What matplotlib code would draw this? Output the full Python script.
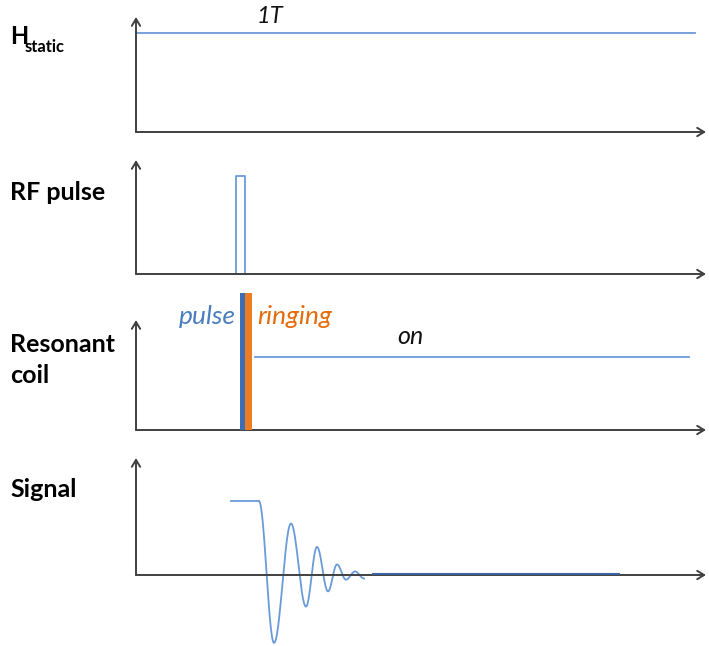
import numpy as np
import matplotlib
matplotlib.use("Agg")
import matplotlib.pyplot as plt

# ---- data (time in arbitrary units, amplitudes normalised to panel height) ----
panel_labels = ["H", "RF pulse", "Resonant", "coil", "Signal"]
h_static_level = 0.86
h_static_span = [0, 559]
h_static_text = "1T"

rf_pulse_span = [100, 109]
rf_pulse_height = 0.86

coil_pulse_span = [104, 109]
coil_ring_span = [109, 116]
coil_bar_height = 1.25
coil_on_span = [119, 553]
coil_on_level = 0.66

sig_flat_t = [95, 123]
sig_flat_v = 0.63
sig_ext_t = [123, 138, 155, 170, 181, 192, 201, 210, 219, 228]
sig_ext_v = [0.63, -0.58, 0.44, -0.27, 0.24, -0.14, 0.09, -0.04, 0.03, -0.03]
sig_tail_span = [237, 482]

W, H = 709, 646
fig = plt.figure(figsize=(W / 100, H / 100), dpi=100)

# panel pixel geometry (top, bottom)
panels = [(17, 132), (160, 274), (320, 430), (458, 575)]
x0, x1 = 136, 706
axes = []
for top, bot in panels:
    ax = fig.add_axes([x0 / W, 1 - bot / H, (x1 - x0) / W, (bot - top) / H])
    ax.set_xlim(0, x1 - x0)
    ax.set_ylim(0, 1)
    ax.axis("off")
    arrow = dict(arrowstyle="->,head_length=0.5,head_width=0.3", color="#404040", lw=1.4,
                 shrinkA=0, shrinkB=0)
    ax.annotate("", xy=(0, 1), xytext=(0, 0), xycoords="axes fraction", arrowprops=arrow)
    ax.annotate("", xy=(1, 0), xytext=(0, 0), xycoords="axes fraction", arrowprops=arrow)
    axes.append(ax)

line_blue = "#6a9bd8"
font = "Lato"

# Panel 1
ax = axes[0]
ax.plot(h_static_span, [h_static_level] * 2, color=line_blue, lw=1.3)
ax.text(134, 0.948, h_static_text, fontsize=17, style="italic", family=font,
        ha="center", va="baseline", color="#111111")

# Panel 2
ax = axes[1]
ax.plot([rf_pulse_span[0], rf_pulse_span[0], rf_pulse_span[1], rf_pulse_span[1]],
        [0, rf_pulse_height, rf_pulse_height, 0], color=line_blue, lw=1.3)

# Panel 3
ax = axes[2]
ax.bar(coil_pulse_span[0], coil_bar_height, width=coil_pulse_span[1] - coil_pulse_span[0],
       align="edge", color="#3d6eb5", clip_on=False, zorder=3)
ax.bar(coil_ring_span[0], coil_bar_height, width=coil_ring_span[1] - coil_ring_span[0],
       align="edge", color="#ec7d22", clip_on=False, zorder=3)
ax.plot(coil_on_span, [coil_on_level] * 2, color=line_blue, lw=1.3)
ax.text(100, 0.964, "pulse", fontsize=19, style="italic", family=font,
        ha="right", va="baseline", color="#4a7ebf", clip_on=False)
ax.text(121, 0.964, "ringing", fontsize=19, style="italic", family=font,
        ha="left", va="baseline", color="#e46c0a", clip_on=False)
ax.text(274, 0.78, "on", fontsize=18, style="italic", family=font,
        ha="center", va="baseline", color="#111111")

# Panel 4
ax = axes[3]
ax.plot(sig_flat_t, [sig_flat_v] * 2, color=line_blue, lw=1.3)
ts, vs = [], []
for i in range(len(sig_ext_t) - 1):
    s = np.linspace(0, 1, 30)
    ts.append(sig_ext_t[i] + (sig_ext_t[i + 1] - sig_ext_t[i]) * s)
    vs.append(sig_ext_v[i] + (sig_ext_v[i + 1] - sig_ext_v[i]) * (1 - np.cos(np.pi * s)) / 2)
ax.plot(np.concatenate(ts), np.concatenate(vs), color=line_blue, lw=1.3, clip_on=False)
ax.plot(sig_tail_span, [0.005] * 2, color="#3a62a0", lw=2.2, zorder=3)

# Labels (baselines in pixels)
fig.text(10 / W, 1 - 44 / H, panel_labels[0], fontsize=17, fontweight="bold",
         family=font, ha="left", va="baseline")
fig.text(25 / W, 1 - 52 / H, "static", fontsize=12, fontweight="bold",
         family=font, ha="left", va="baseline")
for lab, base in zip(panel_labels[1:], [200, 352, 383, 497]):
    fig.text(10 / W, 1 - base / H, lab, fontsize=18, fontweight="bold",
             family=font, ha="left", va="baseline")

fig.savefig("out.png", dpi=100)
